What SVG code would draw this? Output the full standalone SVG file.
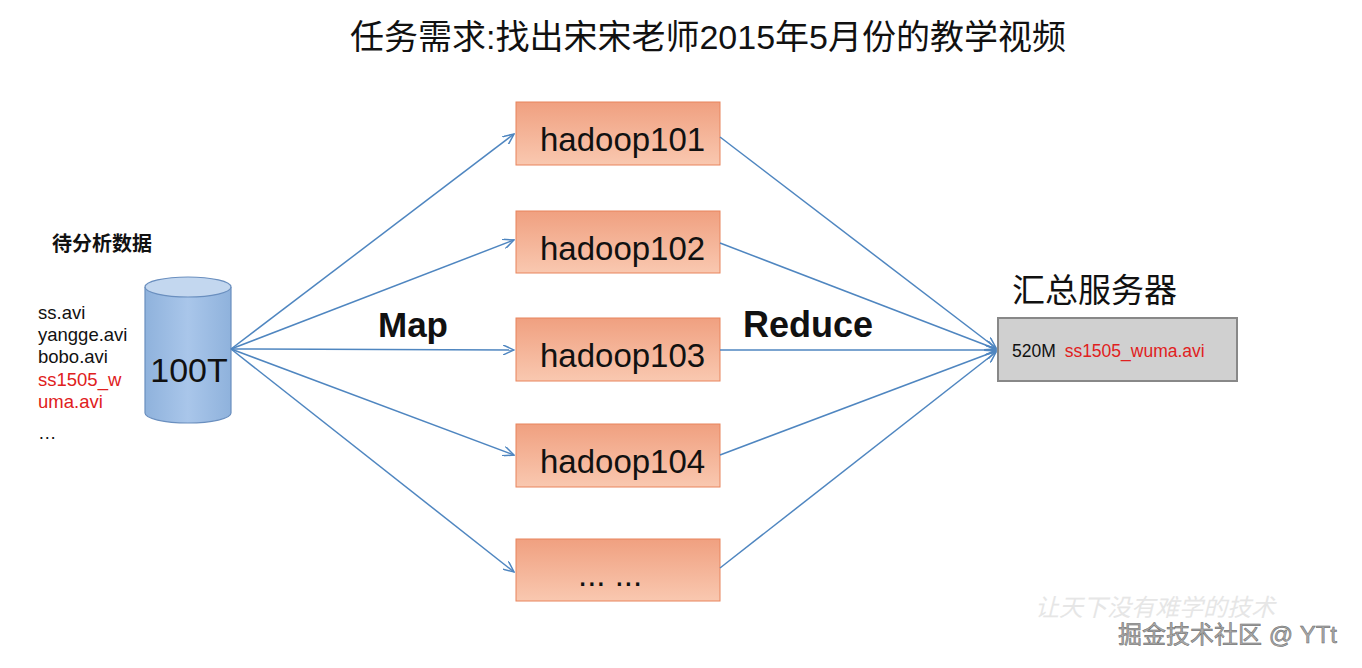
<svg xmlns="http://www.w3.org/2000/svg" width="1362" height="668" viewBox="0 0 1362 668">
<defs>
<linearGradient id="og" x1="0" y1="0" x2="0" y2="1"><stop offset="0" stop-color="#f0a080"/><stop offset="1" stop-color="#f9c8b0"/></linearGradient>
<linearGradient id="cg" x1="0" y1="0" x2="1" y2="0"><stop offset="0" stop-color="#8fb2dc"/><stop offset="0.5" stop-color="#a9c6ea"/><stop offset="1" stop-color="#8fb2dc"/></linearGradient>
<marker id="ar" markerWidth="12" markerHeight="10" refX="11" refY="5" orient="auto" markerUnits="userSpaceOnUse"><path d="M0,0 L11,5 L0,10" fill="none" stroke="#4f86c0" stroke-width="1.5"/></marker>
</defs>
<style>
text{font-family:"Liberation Sans","Noto Sans CJK SC",sans-serif}
.box{fill:url(#og);stroke:#e8845c;stroke-width:1}
.bt{font-size:33px;fill:#111}
.c line{stroke:#4f86c0;stroke-width:1.5;marker-end:url(#ar)}
</style>
<rect width="1362" height="668" fill="#fff"/>
<text x="708" y="49" font-size="34" text-anchor="middle" fill="#111">任务需求:找出宋宋老师2015年5月份的教学视频</text>
<g id="label-data"><text x="52" y="251" font-size="20" font-weight="bold" fill="#111">待分析数据</text></g>
<g id="files" font-size="18.5" fill="#111">
<text x="38" y="319">ss.avi</text><text x="38" y="341">yangge.avi</text><text x="38" y="363">bobo.avi</text>
<text x="38" y="386" fill="#e02020">ss1505_w</text><text x="38" y="408" fill="#e02020">uma.avi</text><text x="38" y="439">…</text>
</g>
<g id="cylinder">
<path d="M145,287 L145,413 A43,10 0 0 0 231,413 L231,287" fill="url(#cg)" stroke="#6a8fbf" stroke-width="1.2"/>
<ellipse cx="188" cy="287" rx="43" ry="10" fill="#c3d7ef" stroke="#6a8fbf" stroke-width="1.2"/>
<text x="189" y="382" font-size="34" text-anchor="middle" fill="#111">100T</text>
</g>
<g id="n1"><rect class="box" x="516" y="102" width="204" height="63"/><text class="bt" x="540" y="151">hadoop101</text></g>
<g id="n2"><rect class="box" x="516" y="211" width="204" height="62"/><text class="bt" x="540" y="260">hadoop102</text></g>
<g id="n3"><rect class="box" x="516" y="318" width="204" height="63"/><text class="bt" x="540" y="367">hadoop103</text></g>
<g id="n4"><rect class="box" x="516" y="424" width="204" height="63"/><text class="bt" x="540" y="473">hadoop104</text></g>
<g id="n5"><rect class="box" x="516" y="539" width="204" height="62"/><text class="bt" x="578" y="586">... ...</text></g>
<g id="server">
<text x="1012" y="302" font-size="33" fill="#111">汇总服务器</text>
<rect x="998" y="318" width="239" height="63" fill="#d0d0d0" stroke="#888" stroke-width="2"/>
<text x="1012" y="357" font-size="17.5" fill="#111">520M <tspan fill="#e02020" dx="4">ss1505_wuma.avi</tspan></text>
</g>
<text x="378" y="337" font-size="35" font-weight="bold" fill="#111">Map</text>
<text x="743" y="337" font-size="36" font-weight="bold" fill="#111">Reduce</text>
<g class="c" id="connectors">
<line x1="231" y1="349" x2="514" y2="134"/>
<line x1="231" y1="349" x2="514" y2="240"/>
<line x1="231" y1="349" x2="514" y2="350"/>
<line x1="231" y1="349" x2="514" y2="455"/>
<line x1="231" y1="349" x2="514" y2="572"/>
<line x1="720" y1="137" x2="996" y2="348"/>
<line x1="720" y1="243" x2="996" y2="349"/>
<line x1="720" y1="350" x2="996" y2="350"/>
<line x1="720" y1="455" x2="996" y2="351"/>
<line x1="720" y1="568" x2="996" y2="352"/>
</g>
<text x="1035" y="616" font-size="24" fill="#e6e6e6" font-family="Liberation Serif,'Noto Sans CJK SC',serif" font-style="italic">让天下没有难学的技术</text>
<text x="1118" y="643" font-size="24" fill="#aaa" stroke="#666" stroke-width="0.5">掘金技术社区 @ YTt</text>
</svg>
